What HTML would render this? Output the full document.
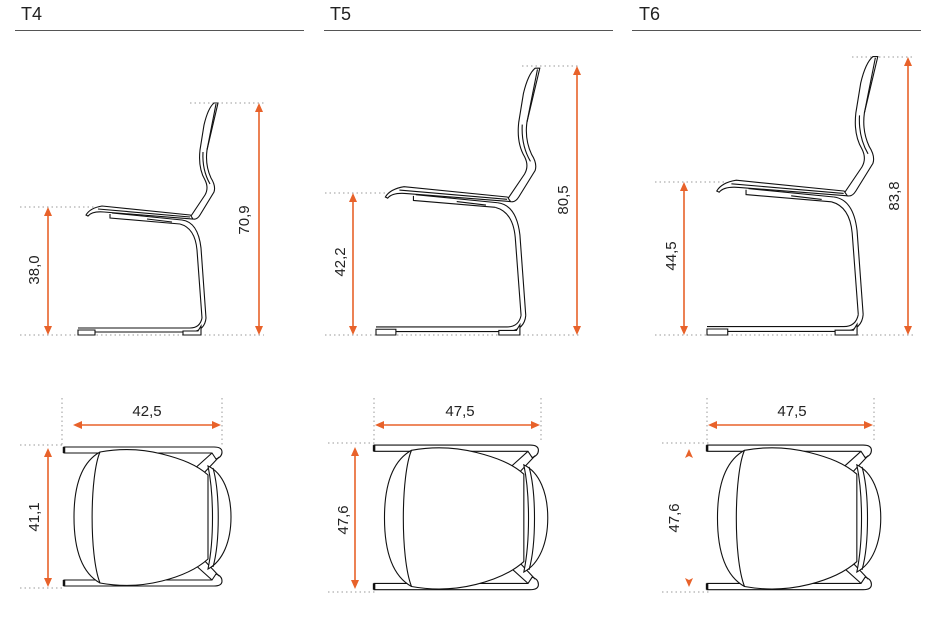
<!DOCTYPE html>
<html><head><meta charset="utf-8"><style>
html,body{margin:0;padding:0;background:#fff}
svg{display:block}
text{font-family:"Liberation Sans",sans-serif;fill:#222}
.h{font-size:18px}
.d{font-size:15px}
.c{fill:none;stroke:#111;stroke-width:1.1;vector-effect:non-scaling-stroke}
.cw{fill:#fff;stroke:#111;stroke-width:1.1;vector-effect:non-scaling-stroke}
.dot{stroke:#999;stroke-width:1;stroke-dasharray:1.5 3;fill:none}
.o{stroke:#e8622a;stroke-width:1.6;fill:none}
.oa{fill:#e8622a}
</style></head><body>
<svg width="946" height="620" viewBox="0 0 946 620" xmlns="http://www.w3.org/2000/svg">
<defs>
<g id="side">
  <path class="c" d="M78,328 H190 Q200,328 202,318"/>
  <path class="c" d="M78,332 H192 Q205,330 206,318"/>
  <rect class="cw" x="78" y="330" width="17" height="5"/>
  <path class="cw" d="M183,331 H198 L201,326 L201,335 H183 Z"/>
  <path class="c" d="M202,318 L197,250 Q195,228 180,224"/>
  <path class="c" d="M206,318 L201,248 Q198,222 182,220"/>
  <path class="c" d="M110,214 L110,218 L180,224"/>
  <path class="c" d="M112,213 L182,220"/>
  <path class="c" d="M147,219 L172,222"/>
  <path class="cw" d="M86,215 Q90,208 102,206 L190,215 Q196,217 193,219 L104,212 Q92,211 88,216 Z"/>
  <path class="c" d="M98,209 L190,217"/>
  <path class="cw" d="M193,219 Q197,220 200,215 L214,192 Q216,186 211,178 Q205,165 207,150 L218,103 L214,103 Q208,108 204,125 L200,150 Q198,168 205,180 Q209,188 205,195 L191,216 Z"/>
  <path class="c" d="M203,152 Q202,170 210,184"/>
  <path class="c" d="M207,150 L216,104"/>
</g>
<g id="top">
  <path class="cw" d="M2,2 H152 Q160,2 160,7 Q160,12 154,14 L150,8 H2 Z"/>
  <path class="cw" d="M2,141 H152 Q160,141 160,136 Q160,131 154,129 L150,135 H2 Z"/>
  <path d="M2,2 V8 M2,135 V141" stroke="#111" stroke-width="2.5" vector-effect="non-scaling-stroke"/>
  <path class="c" d="M130,26 L150,8 M140,30 L157,12"/>
  <path class="c" d="M130,117 L150,135 M140,113 L157,131"/>
  <path class="cw" d="M38,7 C60,3 80,4 100,9 C120,14 135,20 146,30 L146,114 C135,124 120,131 100,136 C80,141 60,142 38,138 C20,128 12,105 12,72 C12,40 20,17 38,7 Z"/>
  <path class="c" d="M38,7 C28,30 27,110 38,138"/>
  <path class="cw" d="M146,21 C152,50 152,95 146,124 C161,116 169,96 169,72 C169,48 161,28 146,21 Z"/>
  <path class="c" d="M151,23 C158,48 158,97 151,122"/>
</g>
</defs>

<text class="h" x="21" y="20">T4</text>
<text class="h" x="330" y="20">T5</text>
<text class="h" x="639" y="20">T6</text>
<line x1="15" y1="30.5" x2="304" y2="30.5" stroke="#555" stroke-width="1"/>
<line x1="324" y1="30.5" x2="613" y2="30.5" stroke="#555" stroke-width="1"/>
<line x1="632" y1="30.5" x2="921" y2="30.5" stroke="#555" stroke-width="1"/>

<line class="dot" x1="20" y1="207" x2="95" y2="207"/>
<line class="dot" x1="190" y1="103" x2="264" y2="103"/>
<line class="dot" x1="20" y1="335" x2="264" y2="335"/>
<use href="#side"/>
<line class="o" x1="48" y1="212" x2="48" y2="330"/>
<path class="oa" d="M48,207 L44,216 L52,216Z M48,335 L44,326 L52,326Z"/>
<text class="d" transform="translate(39,270) rotate(-90)" text-anchor="middle">38,0</text>
<line class="o" x1="259" y1="108" x2="259" y2="330"/>
<path class="oa" d="M259,103 L255,112 L263,112Z M259,335 L255,326 L263,326Z"/>
<text class="d" transform="translate(249,220) rotate(-90)" text-anchor="middle">70,9</text>

<line class="dot" x1="325" y1="193" x2="392" y2="193"/>
<line class="dot" x1="522" y1="66" x2="580" y2="66"/>
<line class="dot" x1="325" y1="335" x2="580" y2="335"/>
<use href="#side" transform="translate(376,335) scale(1.17,1.15) translate(-78,-335)"/>
<line class="o" x1="353" y1="198" x2="353" y2="330"/>
<path class="oa" d="M353,193 L349,202 L357,202Z M353,335 L349,326 L357,326Z"/>
<text class="d" transform="translate(345,262) rotate(-90)" text-anchor="middle">42,2</text>
<line class="o" x1="577" y1="71" x2="577" y2="330"/>
<path class="oa" d="M577,66 L573,75 L581,75Z M577,335 L573,326 L581,326Z"/>
<text class="d" transform="translate(568,200) rotate(-90)" text-anchor="middle">80,5</text>

<line class="dot" x1="655" y1="182" x2="725" y2="182"/>
<line class="dot" x1="852" y1="57" x2="915" y2="57"/>
<line class="dot" x1="655" y1="335" x2="915" y2="335"/>
<use href="#side" transform="translate(707,335) scale(1.22,1.2) translate(-78,-335)"/>
<line class="o" x1="684" y1="187" x2="684" y2="330"/>
<path class="oa" d="M684,182 L680,191 L688,191Z M684,335 L680,326 L688,326Z"/>
<text class="d" transform="translate(676,256) rotate(-90)" text-anchor="middle">44,5</text>
<line class="o" x1="908" y1="62" x2="908" y2="330"/>
<path class="oa" d="M908,57 L904,66 L912,66Z M908,335 L904,326 L912,326Z"/>
<text class="d" transform="translate(899,196) rotate(-90)" text-anchor="middle">83,8</text>

<line class="dot" x1="62" y1="398" x2="62" y2="445"/>
<line class="dot" x1="222" y1="398" x2="222" y2="445"/>
<line class="dot" x1="20" y1="445" x2="65" y2="445"/>
<line class="dot" x1="20" y1="588" x2="65" y2="588"/>
<use href="#top" transform="translate(62,445)"/>
<line class="o" x1="78" y1="425" x2="216" y2="425"/>
<path class="oa" d="M73,425 L82,421 L82,429Z M221,425 L212,421 L212,429Z"/>
<text class="d" x="147" y="416" text-anchor="middle">42,5</text>
<line class="o" x1="48" y1="453" x2="48" y2="582"/>
<path class="oa" d="M48,448 L44,457 L52,457Z M48,587 L44,578 L52,578Z"/>
<text class="d" transform="translate(39,517) rotate(-90)" text-anchor="middle">41,1</text>

<line class="dot" x1="374" y1="398" x2="374" y2="443"/>
<line class="dot" x1="541" y1="398" x2="541" y2="443"/>
<line class="dot" x1="328" y1="443" x2="376" y2="443"/>
<line class="dot" x1="328" y1="592" x2="376" y2="592"/>
<use href="#top" transform="translate(372,443) scale(1.04,1.04)"/>
<line class="o" x1="380" y1="425" x2="535" y2="425"/>
<path class="oa" d="M375,425 L384,421 L384,429Z M540,425 L531,421 L531,429Z"/>
<text class="d" x="460" y="416" text-anchor="middle">47,5</text>
<line class="o" x1="355" y1="452" x2="355" y2="584"/>
<path class="oa" d="M355,447 L351,456 L359,456Z M355,589 L351,580 L359,580Z"/>
<text class="d" transform="translate(348,520) rotate(-90)" text-anchor="middle">47,6</text>

<line class="dot" x1="707" y1="398" x2="707" y2="443"/>
<line class="dot" x1="874" y1="398" x2="874" y2="443"/>
<line class="dot" x1="662" y1="443" x2="709" y2="443"/>
<line class="dot" x1="662" y1="592" x2="709" y2="592"/>
<use href="#top" transform="translate(705,443) scale(1.04,1.04)"/>
<line class="o" x1="713" y1="425" x2="868" y2="425"/>
<path class="oa" d="M708,425 L717,421 L717,429Z M873,425 L864,421 L864,429Z"/>
<text class="d" x="792" y="416" text-anchor="middle">47,5</text>
<path class="oa" d="M689,449 L685,458 L689,456 L693,458Z M689,587 L685,578 L689,580 L693,578Z"/>
<text class="d" transform="translate(679,518) rotate(-90)" text-anchor="middle">47,6</text>
</svg>
</body></html>
